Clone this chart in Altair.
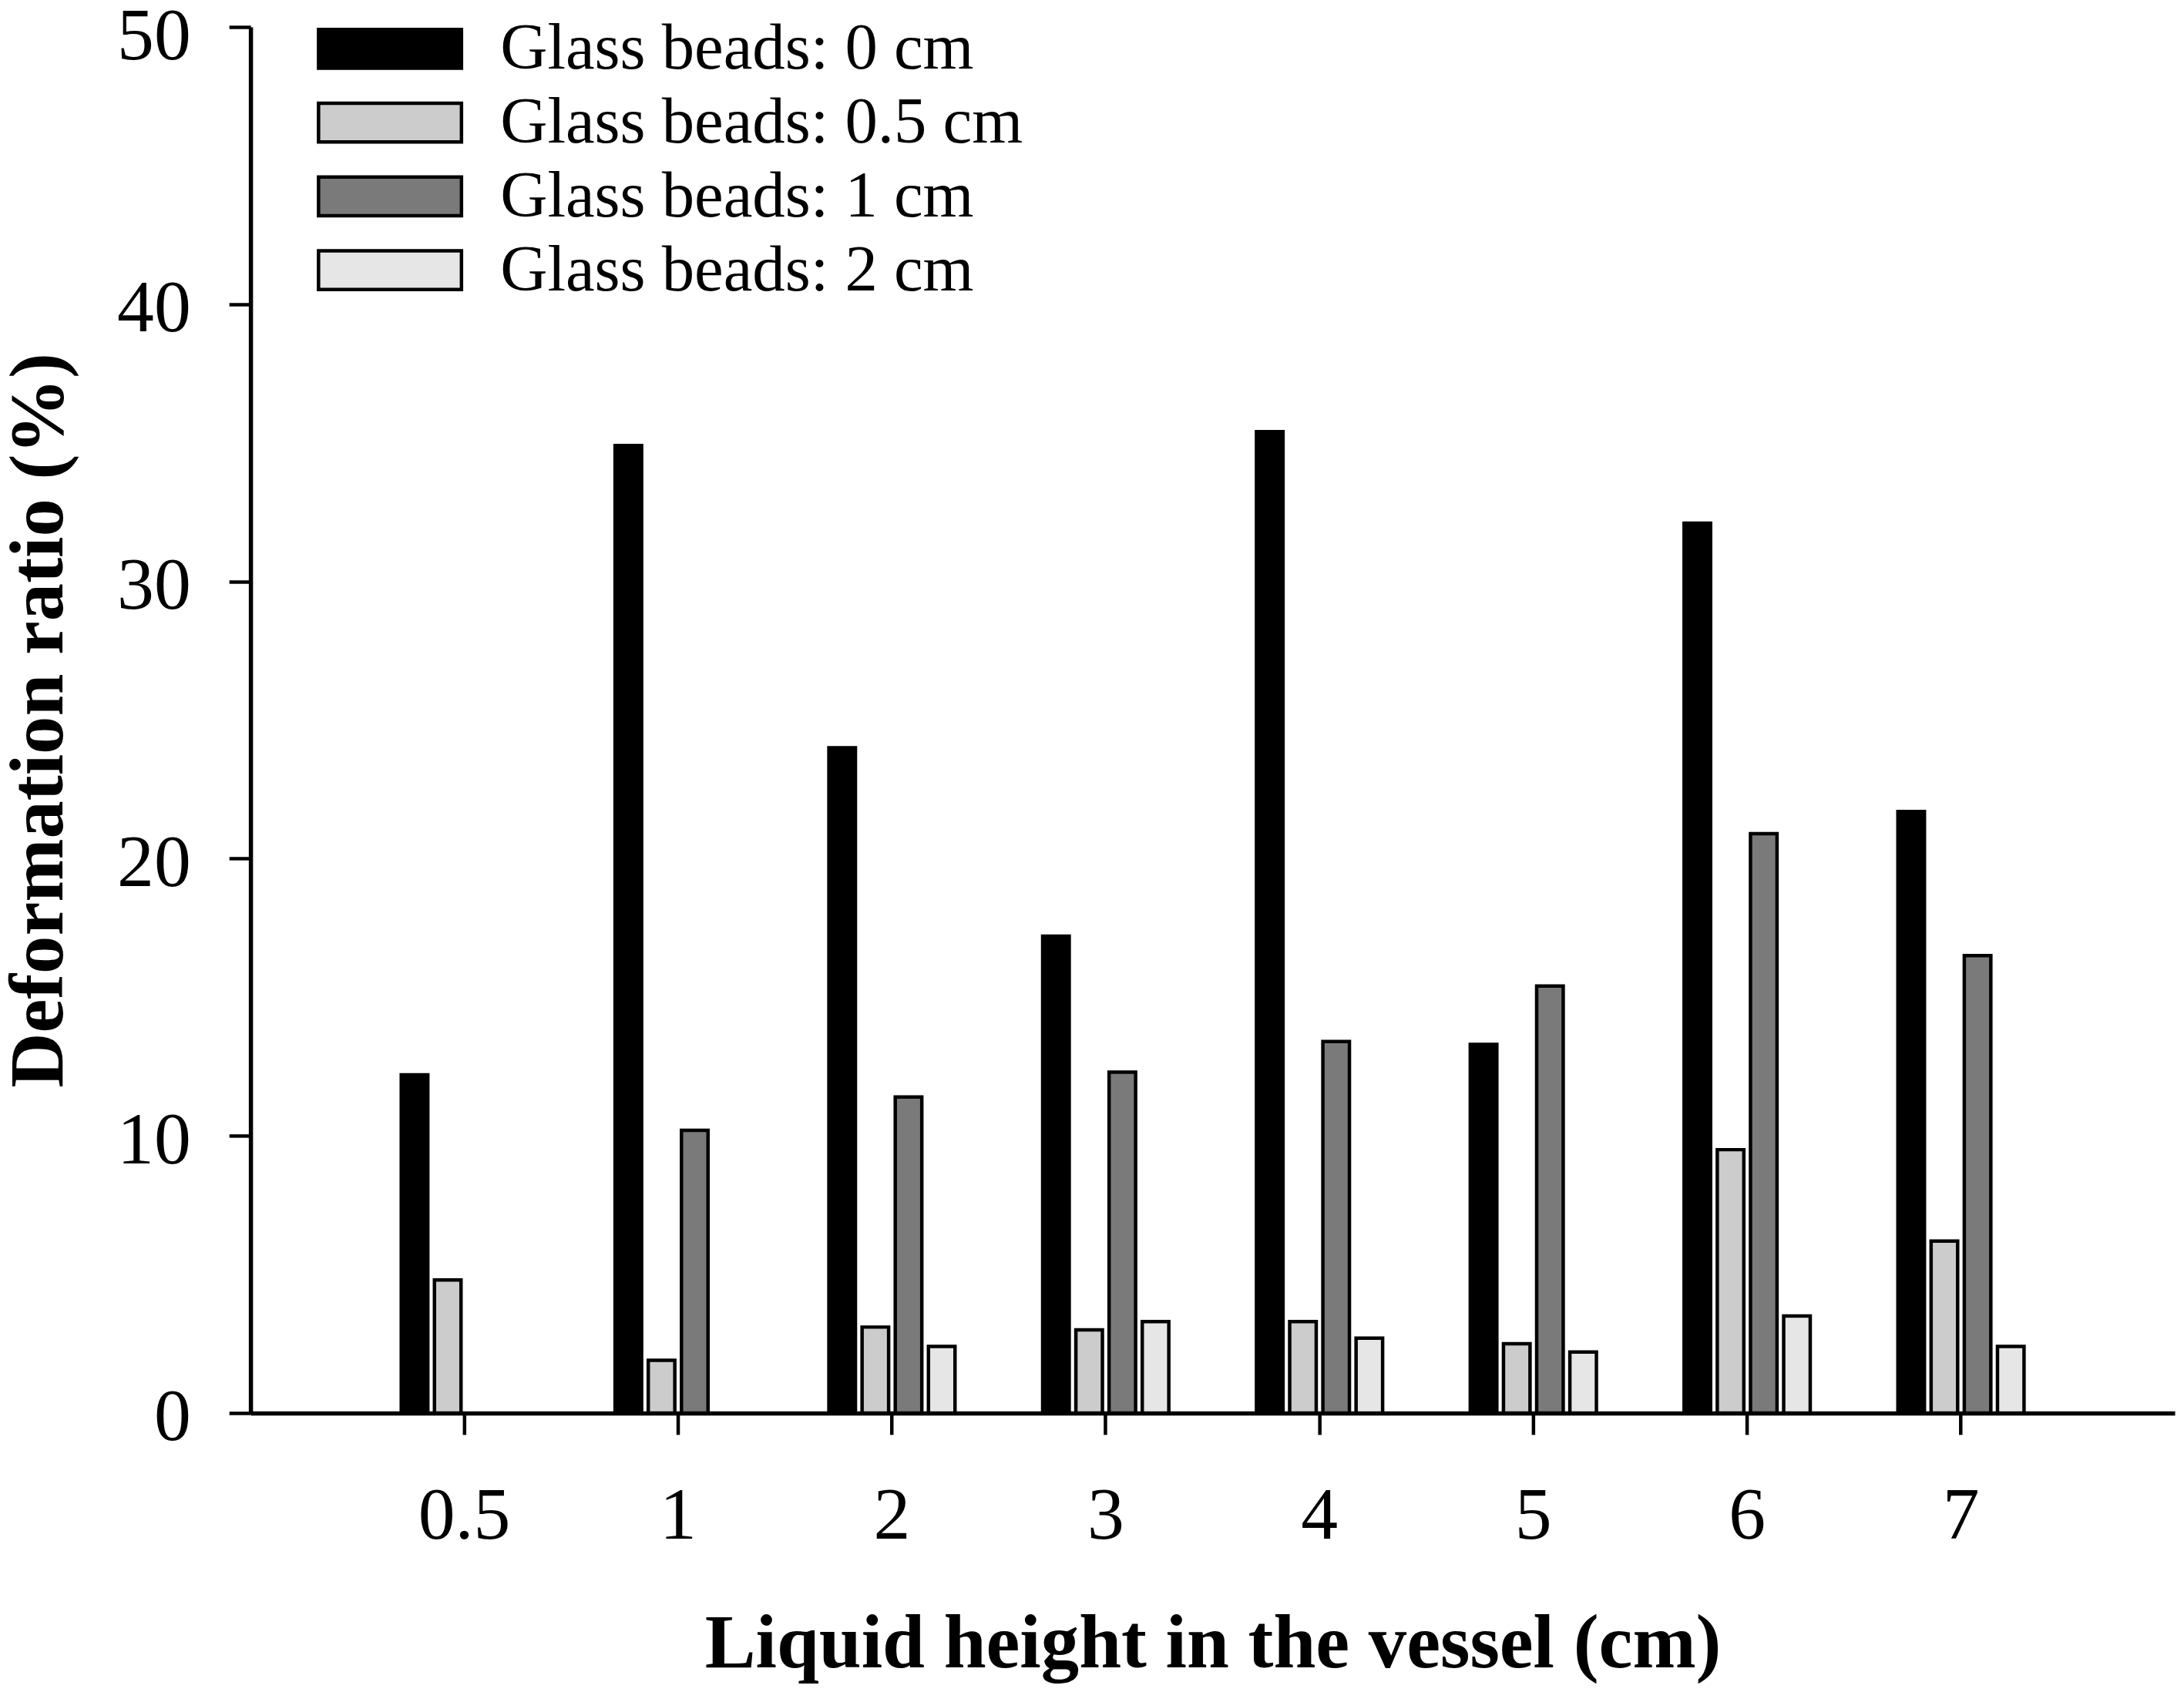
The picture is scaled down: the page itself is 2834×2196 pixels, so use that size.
import altair as alt
import pandas as pd

heights = ["0.5", "1", "2", "3", "4", "5", "6", "7"]
series = ["Glass beads: 0 cm", "Glass beads: 0.5 cm", "Glass beads: 1 cm", "Glass beads: 2 cm"]
colors = ["#000000", "#cccccc", "#7a7a7a", "#e6e6e6"]

beads_0 = [12.2, 34.9, 24.0, 17.2, 35.4, 13.3, 32.1, 21.7]
beads_05 = [4.8, 1.9, 3.1, 3.0, 3.3, 2.5, 9.5, 6.2]
beads_1 = [None, 10.2, 11.4, 12.3, 13.4, 15.4, 20.9, 16.5]
beads_2 = [None, None, 2.4, 3.3, 2.7, 2.2, 3.5, 2.4]

rows = []
for name, vals in zip(series, [beads_0, beads_05, beads_1, beads_2]):
    for h, v in zip(heights, vals):
        if v is not None:
            rows.append({"height": h, "series": name, "value": v})
df = pd.DataFrame(rows)

FONT = "Liberation Serif"

chart = alt.Chart(df).mark_bar(stroke="black", strokeWidth=4.5).encode(
    x=alt.X(
        "height:N",
        sort=heights,
        scale=alt.Scale(domain=heights, paddingInner=0.41, paddingOuter=0.705),
        axis=alt.Axis(
            title="Liquid height in the vessel (cm)",
            labelAngle=0,
            labelFontSize=96,
            labelPadding=59,
            tickSize=28,
            tickWidth=4.5,
            domainWidth=5.5,
            titleFontSize=99,
            titleX=1252,
            titleY=331,
            titleAlign="center",
            titleBaseline="alphabetic",
        ),
    ),
    xOffset=alt.XOffset(
        "series:N",
        scale=alt.Scale(domain=series, paddingInner=0.2, paddingOuter=0),
    ),
    y=alt.Y(
        "value:Q",
        scale=alt.Scale(domain=[0, 50], nice=False),
        axis=alt.Axis(
            title="Deformation ratio (%)",
            values=[0, 10, 20, 30, 40, 50],
            labelFontSize=96,
            labelPadding=50,
            labelOffset={"condition": {"test": "datum.value == 50", "value": 13}, "value": 6},
            tickSize=28,
            tickWidth=4.5,
            domainWidth=5.5,
            grid=False,
            titleFontSize=99,
            titleAngle=270,
            titleX=-245,
            titleY=902,
            titleAlign="center",
            titleBaseline="alphabetic",
        ),
    ),
    color=alt.Color(
        "series:N",
        scale=alt.Scale(domain=series, range=colors),
        legend=alt.Legend(
            title=None,
            orient="none",
            legendX=86,
            legendY=-14,
            symbolType="M-1,-0.2715L1,-0.2715L1,0.2715L-1,0.2715Z",
            symbolSize=34596,
            symbolStrokeColor="black",
            symbolStrokeWidth=4.5,
            symbolOpacity=1,
            labelFont=FONT,
            labelFontSize=85,
            labelColor="black",
            labelOffset=48,
            labelLimit=0,
            clipHeight=85,
            rowPadding=10,
            padding=0,
        ),
    ),
).properties(
    width=2504,
    height=1804,
    autosize=alt.AutoSizeParams(type="none"),
    padding={"left": 318, "top": 24, "right": 4, "bottom": 352},
    background="white",
).configure_axis(
    labelFont=FONT,
    titleFont=FONT,
    titleFontWeight="bold",
    labelColor="black",
    titleColor="black",
    domainColor="black",
    tickColor="black",
).configure_view(
    strokeWidth=0,
)

chart.save("out.html", embed_options={"renderer": "svg", "actions": False})
